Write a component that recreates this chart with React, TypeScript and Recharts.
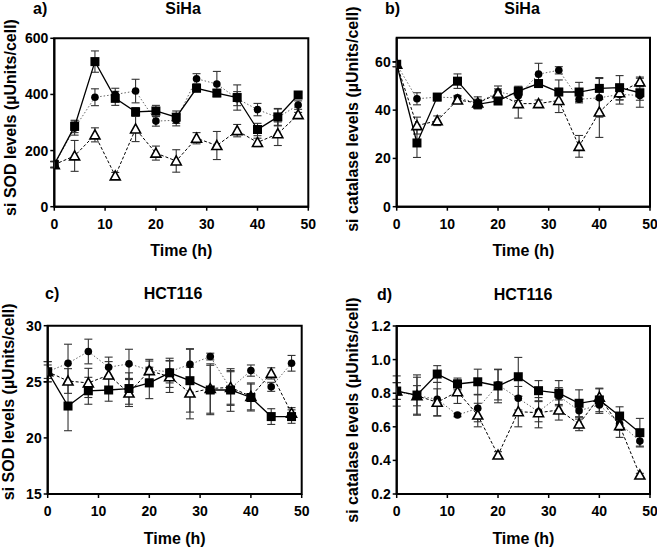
import React from 'react'
import { LineChart, Line, XAxis, YAxis, ErrorBar, ReferenceArea } from 'recharts'

const hours = [0, 4, 8, 12, 16, 20, 24, 28, 32, 36, 40, 44, 48]
const xTicks = [0, 10, 20, 30, 40, 50]

// a) SiHa SOD
const sodSihaSq = [151, 286, 517, 386, 338, 341, 319, 422, 405, 389, 275, 320, 398]
const sodSihaSqErr = [10, 22, 38, 25, 15, 20, 22, 12, 12, 45, 22, 30, 10]
const sodSihaCi = [150, 280, 390, 400, 412, 305, 308, 456, 437, 385, 346, 318, 362]
const sodSihaCiErr = [10, 25, 30, 22, 42, 18, 20, 18, 45, 25, 22, 30, 15]
const sodSihaTr = [150, 181, 256, 110, 277, 191, 163, 244, 218, 271, 229, 260, 328]
const sodSihaTrErr = [12, 55, 25, 12, 45, 25, 40, 20, 50, 22, 15, 42, 8]

// b) SiHa catalase
const catSihaSq = [59, 26.4, 45.4, 52, 42.4, 43.8, 47.9, 51, 47.5, 47.5, 49, 49.3, 47.2]
const catSihaSqErr = [1, 6, 1.5, 3, 1.5, 1.5, 2, 1.5, 5, 4, 4.5, 5, 6]
const catSihaCi = [59, 44.7, 45.4, 45.1, 43, 47.5, 46, 54.9, 56.5, 44.5, 45.1, 46.5, 46.1]
const catSihaCiErr = [1, 2.5, 1, 1, 1.5, 2.5, 2, 4.5, 1.5, 1.5, 8, 4, 2]
const catSihaTr = [59, 33.6, 35.6, 44.2, 43, 46.8, 42.7, 42.7, 44, 25, 39.2, 47.2, 51.7]
const catSihaTrErr = [1, 3.5, 2, 1.5, 2.5, 2, 6, 1.5, 5, 4.5, 10.5, 3, 2]

// c) HCT116 SOD
const sodHctSq = [25.9, 22.84, 24.2, 24.27, 24.4, 24.9, 25.8, 25.1, 24.27, 24.27, 23.6, 21.9, 21.9]
const sodHctSqErr = [0.9, 2.2, 1.2, 1.0, 1.4, 1.4, 1.3, 2.8, 2.2, 1.9, 1.2, 0.7, 0.6]
const sodHctCi = [25.9, 26.65, 27.7, 26.3, 26.6, 26.05, 25.9, 26.55, 27.25, 24.4, 26.0, 24.55, 26.65]
const sodHctCiErr = [0.6, 1.7, 1.1, 0.9, 1.3, 0.8, 1.0, 1.4, 0.3, 1.5, 0.5, 0.4, 0.7]
const sodHctTr = [25.9, 25.07, 24.9, 25.6, 24.0, 26.0, 25.45, 24.0, 24.4, 24.5, 23.7, 25.75, 22.2]
const sodHctTrErr = [0.9, 1.1, 1.3, 1.2, 1.2, 1.0, 1.4, 2.3, 2.2, 1.5, 1.2, 0.5, 0.5]

// d) HCT116 catalase
const catHctSq = [0.813, 0.789, 0.914, 0.855, 0.868, 0.843, 0.898, 0.815, 0.8, 0.74, 0.76, 0.664, 0.565]
const catHctSqErr = [0.09, 0.12, 0.05, 0.035, 0.075, 0.1, 0.115, 0.06, 0.075, 0.08, 0.07, 0.055, 0.085]
const catHctCi = [0.813, 0.785, 0.764, 0.67, 0.71, 0.85, 0.77, 0.69, 0.783, 0.696, 0.73, 0.62, 0.515]
const catHctCiErr = [0.05, 0.06, 0.1, 0.01, 0.08, 0.09, 0.07, 0.06, 0.05, 0.05, 0.05, 0.04, 0.03]
const catHctTr = [0.813, 0.785, 0.746, 0.809, 0.67, 0.432, 0.69, 0.684, 0.7, 0.617, 0.776, 0.607, 0.313]
const catHctTrErr = [0.05, 0.11, 0.08, 0.07, 0.07, 0.02, 0.09, 0.09, 0.06, 0.04, 0.05, 0.07, 0.01]

const FONT = '"Liberation Sans", Arial, sans-serif'

function rows(sq: number[], sqE: number[], ci: number[], ciE: number[], tr: number[], trE: number[]) {
  return hours.map((t, i) => ({ t, sq: sq[i], sqErr: sqE[i], ci: ci[i], ciErr: ciE[i], tr: tr[i], trErr: trE[i] }))
}

const SquareDot = (p: any) => {
  if (p.cx == null || p.cy == null) return <g key={p.index} />
  return <rect key={p.index} x={p.cx - 4.5} y={p.cy - 4.5} width={9} height={9} fill="#000" />
}
const CircleDot = (p: any) => {
  if (p.cx == null || p.cy == null) return <g key={p.index} />
  return <circle key={p.index} cx={p.cx} cy={p.cy} r={3.8} fill="#000" />
}
const TriDot = (p: any) => {
  if (p.cx == null || p.cy == null) return <g key={p.index} />
  const { cx, cy } = p
  return (
    <path key={p.index} d={`M${cx},${cy - 5} L${cx + 5},${cy + 4} L${cx - 5},${cy + 4} Z`}
      fill="#fff" stroke="#000" strokeWidth={1.6} strokeLinejoin="miter" />
  )
}

const XTitle = (props: any) => {
  const vb = props.viewBox
  return (
    <text x={vb.x + vb.width / 2} y={vb.y + 44} textAnchor="middle" dominantBaseline="central"
      fontFamily={FONT} fontWeight={700} fontSize={16} fill="#000">Time (h)</text>
  )
}

const YTitle = (props: any) => {
  const vb = props.viewBox
  const x = vb.x + vb.width - props.dx
  const y = vb.y + vb.height / 2 + props.dy
  return (
    <text x={x} y={y} textAnchor="middle" dominantBaseline="central" transform={`rotate(-90, ${x}, ${y})`}
      fontFamily={FONT} fontWeight={700} fontSize={16} fill="#000">{props.text}</text>
  )
}

type PanelProps = {
  data: any[]
  left: number
  top: number
  width: number
  height: number
  margin: { top: number; right: number; bottom: number; left: number }
  yDomain: [number, number]
  yTicks: number[]
  yFmt?: (v: number) => string
  yTitle: string
  yTitleDx: number
  yTitleDy: number
  letter: string
  letterX: number
  name: string
  nameX: number
  titleY: number
}

function Panel(p: PanelProps) {
  const tickStyle = { fontFamily: FONT, fontWeight: 700, fontSize: 14, fill: '#000' }
  return (
    <div style={{ position: 'absolute', left: p.left, top: p.top, width: p.width, height: p.height }}>
      <div style={{ position: 'absolute', left: p.letterX, top: p.titleY - 10, fontFamily: FONT, fontWeight: 700, fontSize: 16, lineHeight: '20px' }}>{p.letter}</div>
      <div style={{ position: 'absolute', left: p.nameX - 60, width: 120, textAlign: 'center', top: p.titleY - 10, fontFamily: FONT, fontWeight: 700, fontSize: 16, lineHeight: '20px' }}>{p.name}</div>
      <LineChart width={p.width} height={p.height} data={p.data} margin={p.margin}>
        <XAxis type="number" dataKey="t" domain={[0, 50]} ticks={xTicks} tick={tickStyle}
          axisLine={{ stroke: '#000', strokeWidth: 2 }} tickLine={{ stroke: '#000', strokeWidth: 1.5 }}
          tickSize={4} tickMargin={8} height={40} allowDataOverflow label={<XTitle />} />
        <YAxis type="number" domain={p.yDomain} ticks={p.yTicks} tick={tickStyle} tickFormatter={p.yFmt}
          axisLine={{ stroke: '#000', strokeWidth: 2 }} tickLine={{ stroke: '#000', strokeWidth: 1.5 }}
          tickSize={4} tickMargin={2} width={44} allowDataOverflow
          label={<YTitle text={p.yTitle} dx={p.yTitleDx} dy={p.yTitleDy} />} />
        <ReferenceArea x1={0} x2={50} y1={p.yDomain[0]} y2={p.yDomain[1]} fill="none" stroke="#000" strokeWidth={2} ifOverflow="visible" />
        <Line dataKey="ci" stroke="#666" strokeWidth={1} strokeDasharray="1.5 2" dot={CircleDot} activeDot={false} isAnimationActive={false}>
          <ErrorBar dataKey="ciErr" width={4} stroke="#333" strokeWidth={1.1} />
        </Line>
        <Line dataKey="tr" stroke="#000" strokeWidth={1} strokeDasharray="3 2" dot={TriDot} activeDot={false} isAnimationActive={false}>
          <ErrorBar dataKey="trErr" width={4} stroke="#333" strokeWidth={1.1} />
        </Line>
        <Line dataKey="sq" stroke="#000" strokeWidth={1.3} dot={SquareDot} activeDot={false} isAnimationActive={false}>
          <ErrorBar dataKey="sqErr" width={4} stroke="#333" strokeWidth={1.1} />
        </Line>
      </LineChart>
    </div>
  )
}

export default function App() {
  return (
    <div style={{ position: 'absolute', left: 0, top: 0, width: 657, height: 548, background: '#fff', overflow: 'hidden' }}>
      <Panel
        data={rows(sodSihaSq, sodSihaSqErr, sodSihaCi, sodSihaCiErr, sodSihaTr, sodSihaTrErr)}
        left={0} top={0} width={328} height={270}
        margin={{ top: 38.3, right: 19.7, bottom: 23.3, left: 10.3 }}
        yDomain={[0, 600]} yTicks={[0, 200, 400, 600]}
        yTitle="si SOD levels (µUnits/cell)" yTitleDx={44} yTitleDy={-5}
        letter="a)" letterX={33} name="SiHa" nameX={183} titleY={9}
      />
      <Panel
        data={rows(catSihaSq, catSihaSqErr, catSihaCi, catSihaCiErr, catSihaTr, catSihaTrErr)}
        left={328} top={0} width={329} height={270}
        margin={{ top: 37.7, right: 7, bottom: 23.3, left: 24.7 }}
        yDomain={[0, 70]} yTicks={[0, 20, 40, 60]}
        yTitle="si catalase levels (µUnits/cell)" yTitleDx={44} yTitleDy={-3}
        letter="b)" letterX={57} name="SiHa" nameX={194} titleY={9}
      />
      <Panel
        data={rows(sodHctSq, sodHctSqErr, sodHctCi, sodHctCiErr, sodHctTr, sodHctTrErr)}
        left={0} top={274} width={328} height={274}
        margin={{ top: 51.7, right: 26.3, bottom: 14, left: 3.7 }}
        yDomain={[15, 30]} yTicks={[15, 20, 25, 30]}
        yTitle="si SOD levels (µUnits/cell)" yTitleDx={39} yTitleDy={-8}
        letter="c)" letterX={45} name="HCT116" nameX={173} titleY={20}
      />
      <Panel
        data={rows(catHctSq, catHctSqErr, catHctCi, catHctCiErr, catHctTr, catHctTrErr)}
        left={328} top={274} width={329} height={274}
        margin={{ top: 52, right: 7, bottom: 14, left: 24.7 }}
        yDomain={[0.2, 1.2]} yTicks={[0.2, 0.4, 0.6, 0.8, 1.0, 1.2]} yFmt={(v: number) => v.toFixed(1)}
        yTitle="si catalase levels (µUnits/cell)" yTitleDx={44} yTitleDy={0}
        letter="d)" letterX={49} name="HCT116" nameX={195} titleY={21}
      />
    </div>
  )
}
